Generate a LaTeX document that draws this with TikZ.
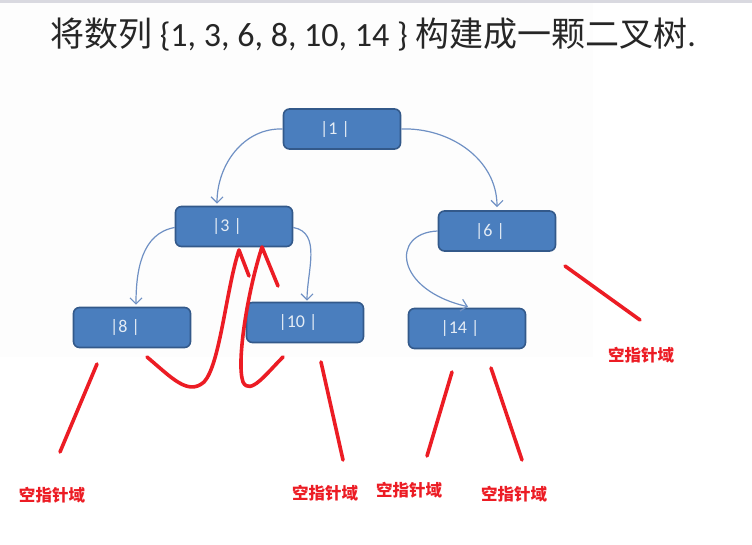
\documentclass[tikz,border=0pt]{standalone}
\usepackage{fontspec}
\setmainfont{Carlito}
\newfontfamily\cjk{Noto Sans CJK SC}
\usetikzlibrary{positioning,calc,arrows.meta}
\definecolor{nodeblue}{HTML}{4A7EBE}
\definecolor{nodeedge}{HTML}{33598A}
\definecolor{linkblue}{HTML}{6F90C4}
\definecolor{penred}{HTML}{EC1C24}

\begin{document}
\begin{tikzpicture}[x=1pt,y=-1pt,
    nodebox/.style={draw=nodeedge,fill=nodeblue,line width=1.6pt,rounded corners=6pt,minimum width=117pt,minimum height=40pt,inner sep=0pt,text=white!85!nodeblue,font=\fontsize{18}{18}\selectfont},
    link/.style={draw=linkblue,line width=1.2pt,-{Straight Barb[length=6pt,width=12pt]}},
    redline/.style={draw=penred,line width=3.6pt,line cap=round,line join=round},
    nulltext/.style={text=penred,font=\cjk\bfseries\fontsize{16.5}{16.5}\selectfont,inner sep=0pt}]
  \useasboundingbox (0,0) rectangle (752,545);
  \fill[white] (0,0) rectangle (752,545);
  \fill[black!0.8] (0,3) rectangle (593,357);
  \fill[blue!20!black!15] (0,0) rectangle (752,3.5);
  % title
  \node[text=black!85,inner sep=0pt] (title) at (373,35) {\fontsize{34}{34}\selectfont{\cjk 将数列} \{1, 3, 6, 8, 10, 14 \} {\cjk 构建成一颗二叉树}.};
  % tree nodes
  \node[nodebox] (n1) at (342,129) {\hspace*{-14pt}|1 |};
  \node[nodebox] (n3) at (234,226.5) {\hspace*{-14pt}|3 |};
  \node[nodebox] (n6) at (497,231) {\hspace*{-14pt}|6 |};
  \node[nodebox] (n8) at (132,327.5) {\hspace*{-14pt}|8 |};
  \node[nodebox] (n10) at (305,322.5) {\hspace*{-14pt}|10 |};
  \node[nodebox] (n14) at (467,328.5) {\hspace*{-14pt}|14 |};
  % links
  \draw[link] (n1.west) to[out=178,in=90] ([xshift=-17pt,yshift=2pt]n3.north);
  \draw[link] (n1.east) to[out=2,in=90] ([yshift=3pt]n6.north);
  \draw[link] ([yshift=-1pt]n3.west) to[out=190,in=90] ([xshift=4pt,yshift=2pt]n8.north);
  \draw[link] ([yshift=-1pt]n3.east) to[out=-10,in=90] ([xshift=2pt,yshift=1pt]n10.north);
  \draw[link] (n6.west) .. controls (390,233) and (395,290) .. ([xshift=1pt,yshift=1pt]n14.north);
  % null pointer fields
  \node[nulltext] (null6) at (641,355) {空指针域};
  \node[nulltext] (null8) at (52,495) {空指针域};
  \node[nulltext] (null10) at (325,493) {空指针域};
  \node[nulltext] (null14a) at (409,490) {空指针域};
  \node[nulltext] (null14b) at (514,494) {空指针域};
  \draw[redline] (565,266) -- (640,320);
  \draw[redline] (97,364) -- (60,452);
  \draw[redline] (321,362) -- (343,460);
  \draw[redline] (452,372) -- (427,456);
  \draw[redline] (491,368) -- (522,460);
  % threads back to 3
  \draw[redline] (147,357) .. controls (172,378) and (188,396) .. (204,382) .. controls (220,365) and (226,290) .. (239,250) -- (249,276);
  \draw[redline] (283,357) .. controls (266,374) and (250,396) .. (243,382) .. controls (236,362) and (248,290) .. (262,247) -- (278,286);
\end{tikzpicture}
\end{document}
